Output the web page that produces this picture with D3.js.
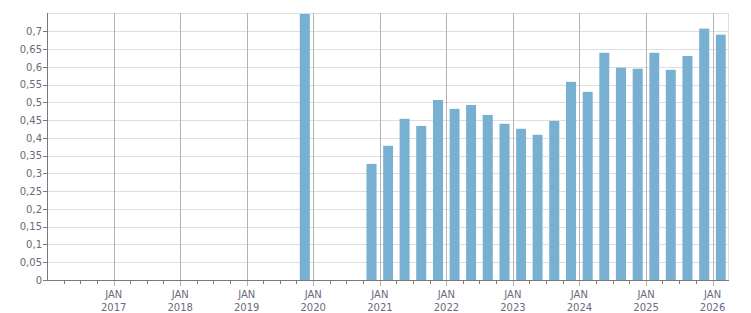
<!DOCTYPE html>
<html>
<head>
<meta charset="utf-8">
<script src="https://cdn.jsdelivr.net/npm/d3@7/dist/d3.min.js"></script>
<style>
  body { margin: 0; background: #fff; }
  text { font-family: "DejaVu Sans", sans-serif; font-size: 10px; fill: #6a6a7c; }
</style>
</head>
<body>
<svg id="chart" width="751" height="313"></svg>
<script>
// Valeurs trimestrielles (début du trimestre)
var quarters = ["2019-10", "2020-10",
    "2021-01", "2021-04", "2021-07", "2021-10",
    "2022-01", "2022-04", "2022-07", "2022-10",
    "2023-01", "2023-04", "2023-07", "2023-10",
    "2024-01", "2024-04", "2024-07", "2024-10",
    "2025-01", "2025-04", "2025-07", "2025-10",
    "2026-01"];
var values = [0.76, 0.327,
    0.378, 0.454, 0.434, 0.507,
    0.482, 0.493, 0.465, 0.44,
    0.426, 0.409, 0.448, 0.558,
    0.53, 0.64, 0.598, 0.595,
    0.64, 0.592, 0.631, 0.708,
    0.691];

// Étiquettes des axes
var y_ticks = [0, 0.05, 0.1, 0.15, 0.2, 0.25, 0.3, 0.35, 0.4, 0.45, 0.5, 0.55, 0.6, 0.65, 0.7];
var y_labels = ["0", "0,05", "0,1", "0,15", "0,2", "0,25", "0,3", "0,35", "0,4", "0,45", "0,5", "0,55", "0,6", "0,65", "0,7"];
var years = [2017, 2018, 2019, 2020, 2021, 2022, 2023, 2024, 2025, 2026];
var month_label = "JAN";

var svg = d3.select("#chart");
// attention: "top" est réservé (window.top)
var m_left = 47, m_right = 728, m_top = 13, m_bottom = 280;

var parse = d3.timeParse("%Y-%m");
var x = d3.scaleTime()
    .domain([new Date(2016, 0, 1), new Date(2026, 3, 1)])
    .range([m_left, m_right + 1]);
var y = d3.scaleLinear()
    .domain([0, 0.752])
    .range([m_bottom, m_top]);

function px(v) { return Math.round(v) + 0.5; }

// grille horizontale
svg.append("g").selectAll("line")
    .data(y_ticks.slice(1))
    .enter().append("line")
    .attr("x1", m_left).attr("x2", m_right)
    .attr("y1", function(d){ return px(y(d)); })
    .attr("y2", function(d){ return px(y(d)); })
    .attr("stroke", "#dedede");

// bordure haut + droite
svg.append("line").attr("x1", m_left).attr("x2", m_right + 0.5)
    .attr("y1", m_top + 0.5).attr("y2", m_top + 0.5).attr("stroke", "#dedede");
svg.append("line").attr("x1", m_right + 0.5).attr("x2", m_right + 0.5)
    .attr("y1", m_top).attr("y2", m_bottom).attr("stroke", "#dedede");

// grille verticale (janvier)
svg.append("g").selectAll("line")
    .data(years)
    .enter().append("line")
    .attr("x1", function(d){ return px(x(new Date(d, 0, 1))); })
    .attr("x2", function(d){ return px(x(new Date(d, 0, 1))); })
    .attr("y1", m_top).attr("y2", m_bottom + 6)
    .attr("stroke", "#b4b4b4");

// barres
svg.append("clipPath").attr("id", "clip")
    .append("rect").attr("x", m_left).attr("y", m_top + 1)
    .attr("width", m_right - m_left).attr("height", m_bottom - m_top);

svg.append("g").attr("clip-path", "url(#clip)")
    .selectAll("rect")
    .data(quarters)
    .enter().append("rect")
    .attr("x", function(d){
        var a = x(parse(d)), b = x(d3.timeMonth.offset(parse(d), 3));
        return a + (b - a) * 0.2;
    })
    .attr("width", function(d){
        var a = x(parse(d)), b = x(d3.timeMonth.offset(parse(d), 3));
        return (b - a) * 0.6;
    })
    .attr("y", function(d, i){ return y(values[i]); })
    .attr("height", function(d, i){ return m_bottom - y(values[i]); })
    .attr("fill", "#78b0d2");

// axe y
svg.append("line").attr("x1", m_left + 0.5).attr("x2", m_left + 0.5)
    .attr("y1", m_top).attr("y2", m_bottom + 1).attr("stroke", "#7a7a7a");
svg.append("g").selectAll("line")
    .data(y_ticks)
    .enter().append("line")
    .attr("x1", m_left - 4).attr("x2", m_left)
    .attr("y1", function(d){ return px(y(d)); })
    .attr("y2", function(d){ return px(y(d)); })
    .attr("stroke", "#7a7a7a");
svg.append("g").selectAll("text")
    .data(y_ticks)
    .enter().append("text")
    .attr("x", m_left - 5)
    .attr("y", function(d){ return y(d); })
    .attr("dy", "0.36em")
    .attr("text-anchor", "end")
    .text(function(d, i){ return y_labels[i]; });

// axe x
svg.append("line").attr("x1", m_left).attr("x2", m_right + 1)
    .attr("y1", m_bottom + 0.5).attr("y2", m_bottom + 0.5).attr("stroke", "#7a7a7a");
var quarter_ticks = d3.timeMonth.every(3).range(new Date(2016, 3, 1), new Date(2026, 3, 1))
    .filter(function(d){ return d.getMonth() != 0; });
svg.append("g").selectAll("line")
    .data(quarter_ticks)
    .enter().append("line")
    .attr("x1", function(d){ return px(x(d)); })
    .attr("x2", function(d){ return px(x(d)); })
    .attr("y1", m_bottom).attr("y2", m_bottom + 4)
    .attr("stroke", "#7a7a7a");

var xl = svg.append("g").selectAll("text")
    .data(years)
    .enter().append("text")
    .attr("text-anchor", "middle")
    .attr("x", function(d){ return x(new Date(d, 0, 1)); })
    .attr("y", 298);
xl.append("tspan").text(month_label);
xl.append("tspan")
    .attr("x", function(d){ return x(new Date(d, 0, 1)); })
    .attr("dy", 12.5)
    .text(function(d){ return d; });
</script>
</body>
</html>
